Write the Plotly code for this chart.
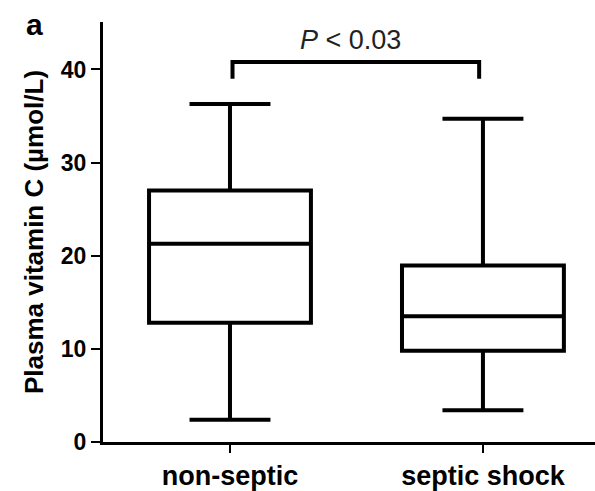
import plotly.graph_objects as go

# Summary statistics of plasma vitamin C (µmol/L) per group
groups = ["non-septic", "septic shock"]
lower_whisker = [2.4, 3.4]
q1 = [12.8, 9.8]
median = [21.3, 13.5]
q3 = [27.0, 18.95]
upper_whisker = [36.3, 34.7]

p_label = "<i>P</i> < 0.03"
bracket_y = 40.8
bracket_drop = 39.0

FONT = "Liberation Sans, Arial, Helvetica, sans-serif"

fig = go.Figure()
fig.add_trace(go.Box(
    x=groups,
    q1=q1,
    median=median,
    q3=q3,
    lowerfence=lower_whisker,
    upperfence=upper_whisker,
    width=0.64,
    whiskerwidth=0.5,
    fillcolor="rgba(0,0,0,0)",
    line=dict(color="black", width=4),
    boxpoints=False,
    hoverinfo="skip",
    showlegend=False,
))

# Significance bracket between the two groups
fig.add_shape(type="path",
              path=f"M 0.01,{bracket_drop} L 0.01,{bracket_y} L 0.985,{bracket_y} L 0.985,{bracket_drop}",
              xref="x", yref="y", line=dict(color="black", width=4))
fig.add_annotation(x=0.5, y=bracket_y, xref="x", yref="y", text=p_label,
                   showarrow=False, yanchor="bottom", yshift=5, xshift=-6,
                   font=dict(family=FONT, size=27, color="#222"))

# Panel letter
fig.add_annotation(x=-0.14, y=1.037, xref="paper", yref="paper", text="<b>a</b>",
                   showarrow=False, xanchor="center", yanchor="top",
                   font=dict(family=FONT, size=30, color="black"))

fig.update_layout(
    width=595, height=491,
    margin=dict(l=103, r=0, t=22, b=46),
    paper_bgcolor="white", plot_bgcolor="white",
    font=dict(family=FONT, color="black"),
    xaxis=dict(
        type="category",
        range=[-0.502, 1.443],
        showline=True, linecolor="black", linewidth=3,
        ticks="outside", ticklen=8, tickwidth=2, tickcolor="black",
        showgrid=False, zeroline=False,
        tickfont=dict(family=FONT, size=27, color="black", weight="bold"),
    ),
    yaxis=dict(
        range=[0, 45.1],
        tickvals=[0, 10, 20, 30, 40],
        showline=True, linecolor="black", linewidth=3,
        ticks="outside", ticklen=9, tickwidth=2, tickcolor="black",
        showgrid=False, zeroline=False,
        tickfont=dict(family=FONT, size=23, color="black", weight="bold"),
        title=dict(text="Plasma vitamin C (µmol/L)",
                   font=dict(family=FONT, size=26, color="black", weight="bold"),
                   standoff=10),
    ),
)

fig.write_html("out.html")
